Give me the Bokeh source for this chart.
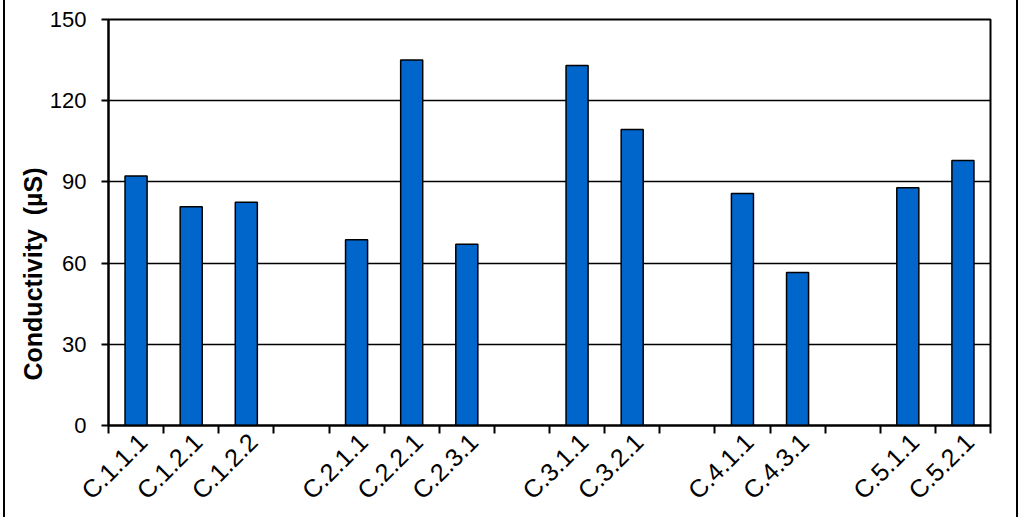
import math
from bokeh.plotting import figure
from bokeh.models import FixedTicker, Title, ColumnDataSource
from bokeh.embed import file_html
from bokeh.resources import INLINE

slots = ["C.1.1.1", "C.1.2.1", "C.1.2.2", "", "C.2.1.1", "C.2.2.1", "C.2.3.1", "",
         "C.3.1.1", "C.3.2.1", "", "C.4.1.1", "C.4.3.1", "", "C.5.1.1", "C.5.2.1"]
values = [92.2, 80.8, 82.5, None, 68.6, 135.0, 67.0, None,
          133.0, 109.4, None, 85.7, 56.5, None, 87.8, 97.9]
y_ticks = [0, 30, 60, 90, 120, 150]

xs, tops, labels = [], [], []
for i, (s, v) in enumerate(zip(slots, values)):
    if v is not None:
        xs.append(i + 0.5)
        tops.append(v)
        labels.append(s)

src = ColumnDataSource(dict(x=xs, top=tops))

p = figure(width=1024, height=517, x_range=(0, len(slots)), y_range=(0, 150),
           output_backend="svg", toolbar_location=None,
           min_border_left=108, min_border_right=34, min_border_top=19, min_border_bottom=92)
p.vbar(x="x", top="top", width=0.4, source=src, fill_color="#0066CC",
       line_color="black", line_width=1.5)

p.border_fill_alpha = 0
p.styles = {"box-shadow": "inset 3px 0 0 0 white, inset -6px 0 0 0 white, "
                          "inset 5px 0 0 0 black, inset -8px 0 0 0 black"}

p.outline_line_color = "black"
p.outline_line_width = 2
p.xgrid.visible = False
p.ygrid.grid_line_color = "black"
p.ygrid.grid_line_width = 1.5
p.ygrid.ticker = FixedTicker(ticks=y_ticks)

label_pos = [x + 0.12 for x in xs]
ax = p.xaxis[0]
ax.ticker = FixedTicker(ticks=label_pos, minor_ticks=list(range(len(slots) + 1)))
ax.major_label_overrides = {x: l for x, l in zip(label_pos, labels)}
ax.major_label_orientation = math.pi / 4
ax.major_tick_out = 0
ax.major_tick_in = 0
ax.minor_tick_out = 8
ax.minor_tick_in = 0
ax.minor_tick_line_color = "black"
ax.minor_tick_line_width = 2
ax.axis_line_color = "black"
ax.axis_line_width = 2
ax.major_label_text_font = "Liberation Sans"
ax.major_label_text_font_size = "25px"
ax.major_label_text_color = "black"
ax.major_label_standoff = 4

ay = p.yaxis[0]
ay.ticker = FixedTicker(ticks=y_ticks)
ay.major_tick_out = 7
ay.major_tick_in = 0
ay.minor_tick_line_color = None
ay.major_tick_line_color = "black"
ay.major_tick_line_width = 2
ay.axis_line_color = "black"
ay.axis_line_width = 2
ay.major_label_text_font = "Liberation Sans"
ay.major_label_text_font_size = "22px"
ay.major_label_text_color = "black"
ay.major_label_standoff = 15

ttl = Title(text="Conductivity\u00a0\u00a0(µS)", align="left", offset=45,
            text_font="Liberation Sans", text_font_style="bold",
            text_font_size="25px", text_color="black", standoff=0)
p.add_layout(ttl, "left")

open("out.html", "w").write(file_html(p, INLINE))
